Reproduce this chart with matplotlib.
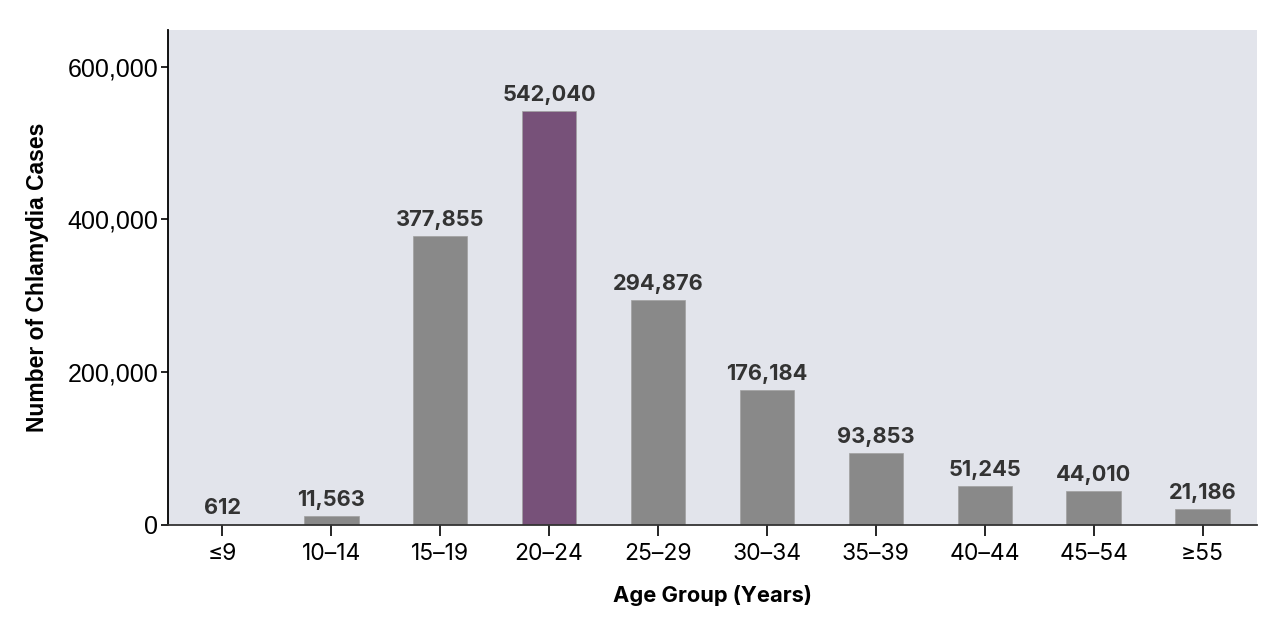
import matplotlib
matplotlib.use("Agg")
import matplotlib.pyplot as plt
from matplotlib.ticker import FuncFormatter

categories = ["≤9", "10–14", "15–19", "20–24", "25–29", "30–34", "35–39", "40–44", "45–54", "≥55"]
cases = [612, 11563, 377855, 542040, 294876, 176184, 93853, 51245, 44010, 21186]
highlight = "20–24"

plt.rcParams['font.family'] = ['Inter', 'DejaVu Sans']

fig = plt.figure(figsize=(12.8, 6.22), dpi=100)
ax = fig.add_axes([168/1280, 1-525/622, (1257-168)/1280, (525-30)/622])
ax.set_facecolor("#e2e4eb")

x = list(range(len(categories)))
colors = ["#775179" if c == highlight else "#898989" for c in categories]
bars = ax.bar(x, cases, width=0.5, color=colors, edgecolor="#a0a0a0", linewidth=0.5, zorder=2)
for xi, v in zip(x, cases):
    ax.text(xi, v + 8000, f"{v:,}", ha="center", va="bottom", fontsize=15.7,
            fontweight="bold", color="#333333")

ax.set_xlim(-0.5, 9.5)
ax.set_ylim(0, 648000)
ax.set_yticks([0, 200000, 400000, 600000])
ax.yaxis.set_major_formatter(FuncFormatter(lambda v, p: f"{int(v):,}"))
ax.set_xticks(x)
ax.set_xticklabels(categories)
ax.tick_params(axis='y', labelsize=18, length=5, width=1.2, colors="black", pad=2)
for lab in ax.get_yticklabels():
    lab.set_family(['Liberation Sans', 'DejaVu Sans'])
ax.tick_params(axis='x', labelsize=16.5, length=8, width=1.2, colors="black", pad=5)
for s in ["top", "right"]:
    ax.spines[s].set_visible(False)
ax.spines["left"].set_linewidth(1.3)
ax.spines["bottom"].set_linewidth(1.3)
ax.spines["bottom"].set_color("#333333")

ax.set_xlabel("Age Group (Years)", fontsize=15.75, fontweight="bold", labelpad=14)
ax.set_ylabel("Number of Chlamydia Cases", fontsize=16.5, fontweight="bold", labelpad=13,
              family=['Liberation Sans', 'DejaVu Sans'])

fig.savefig("out.png", dpi=100)
